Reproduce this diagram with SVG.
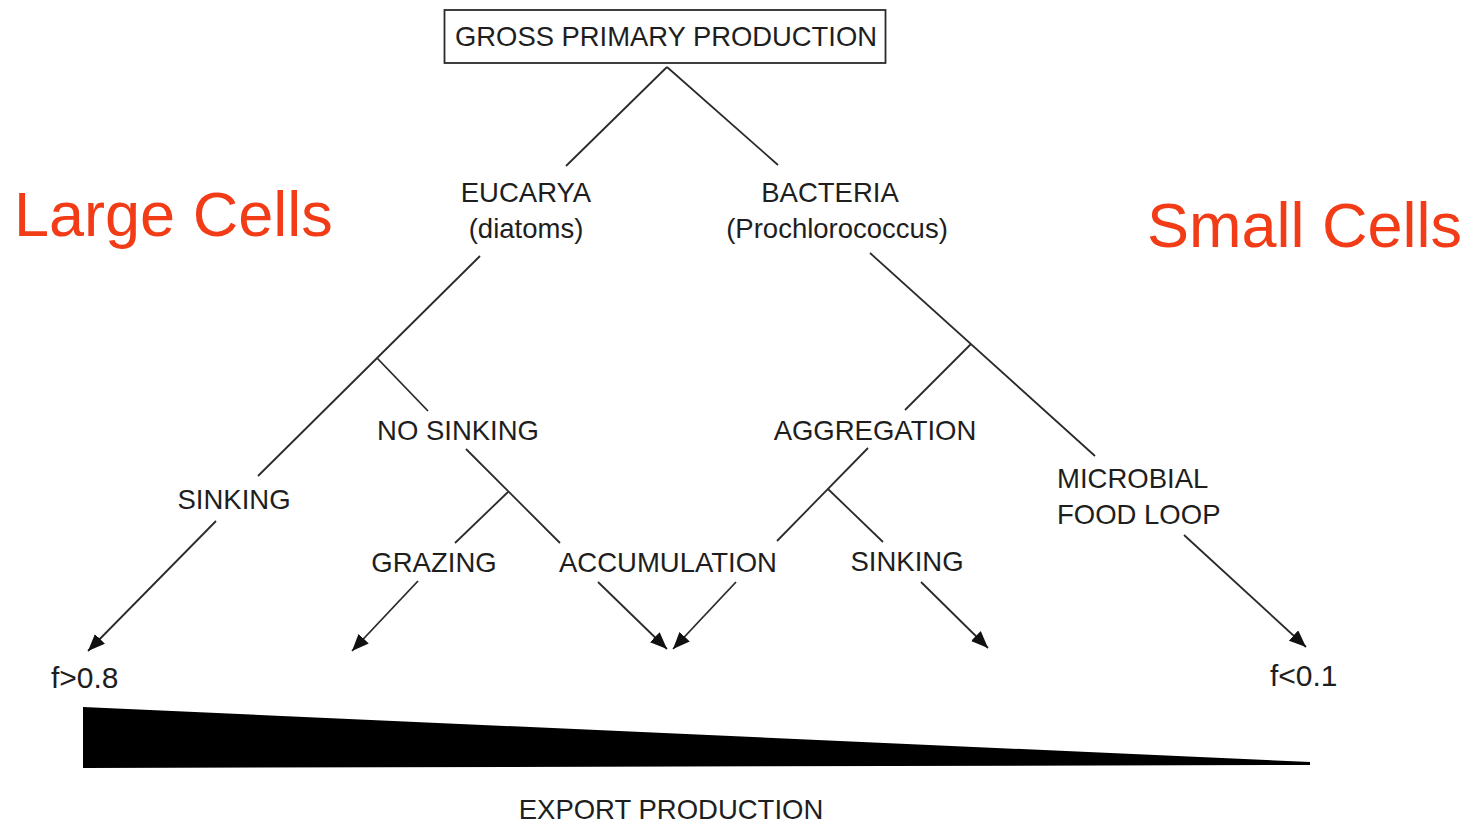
<svg xmlns="http://www.w3.org/2000/svg" width="1478" height="825" viewBox="0 0 1478 825">
<style>
.lbl{font-family:"Liberation Sans",Arial,sans-serif;font-size:27.5px;fill:#1e1e1e;text-anchor:middle}
.f{font-family:"Liberation Sans",Arial,sans-serif;font-size:30px;fill:#1e1e1e}
.red{font-family:"Liberation Sans",Arial,sans-serif;font-size:63px;fill:#f23c17}
.ln{stroke:#2a2a2a;stroke-width:1.8;fill:none}
.ar{stroke:#2a2a2a;stroke-width:1.8;fill:none;marker-end:url(#ah)}
</style>
<defs>
<marker id="ah" markerUnits="userSpaceOnUse" markerWidth="18" markerHeight="14" refX="17" refY="7" orient="auto">
<path d="M0,0 L17,7 L0,14 z" fill="#111"/>
</marker>
</defs>
<rect width="1478" height="825" fill="#fff"/>
<g id="connectors">
<line class="ln" x1="667" y1="67" x2="566" y2="166"/>
<line class="ln" x1="667" y1="67" x2="778" y2="165"/>
<line class="ln" x1="480" y1="256" x2="258" y2="476"/>
<line class="ln" x1="377" y1="358" x2="428" y2="411"/>
<line class="ln" x1="466" y1="449" x2="560" y2="543"/>
<line class="ln" x1="508" y1="492" x2="455" y2="543"/>
<line class="ln" x1="870" y1="253" x2="1095" y2="456"/>
<line class="ln" x1="971" y1="344" x2="905" y2="410"/>
<line class="ln" x1="868" y1="448" x2="777" y2="541"/>
<line class="ln" x1="828" y1="489" x2="883" y2="542"/>
<line class="ar" x1="216" y1="521" x2="88" y2="651"/>
<line class="ar" x1="418" y1="581" x2="352" y2="651"/>
<line class="ar" x1="598" y1="582" x2="667" y2="649"/>
<line class="ar" x1="736" y1="582" x2="673" y2="649"/>
<line class="ar" x1="921" y1="582" x2="988" y2="648"/>
<line class="ar" x1="1184" y1="535" x2="1306" y2="647"/>
</g>
<g id="gpp">
<rect x="444.5" y="10" width="441" height="53" fill="#fff" stroke="#2a2a2a" stroke-width="1.8"/>
<text class="lbl" x="666" y="46" textLength="422" lengthAdjust="spacingAndGlyphs">GROSS PRIMARY PRODUCTION</text>
</g>
<g id="eucarya">
<text class="lbl" x="526" y="202">EUCARYA</text>
<text class="lbl" x="526" y="238">(diatoms)</text>
</g>
<g id="bacteria">
<text class="lbl" x="830" y="202">BACTERIA</text>
<text class="lbl" x="837" y="238">(Prochlorococcus)</text>
</g>
<g id="sinking-left"><text class="lbl" x="234" y="509">SINKING</text></g>
<g id="no-sinking"><text class="lbl" x="458" y="440">NO SINKING</text></g>
<g id="grazing"><text class="lbl" x="434" y="572">GRAZING</text></g>
<g id="accumulation"><text class="lbl" x="668" y="572">ACCUMULATION</text></g>
<g id="aggregation"><text class="lbl" x="875" y="440">AGGREGATION</text></g>
<g id="sinking-right"><text class="lbl" x="907" y="571">SINKING</text></g>
<g id="microbial">
<text class="lbl" x="1057" y="488" style="text-anchor:start">MICROBIAL</text>
<text class="lbl" x="1057" y="524" style="text-anchor:start">FOOD LOOP</text>
</g>
<g id="f-high"><text class="f" x="51" y="688">f&gt;0.8</text></g>
<g id="f-low"><text class="f" x="1270" y="686">f&lt;0.1</text></g>
<g id="wedge">
<polygon points="83,707 1310,762 1310,765 83,768" fill="#000"/>
</g>
<g id="export"><text class="lbl" x="671" y="819">EXPORT PRODUCTION</text></g>
<g id="large-cells"><text class="red" x="14" y="236">Large Cells</text></g>
<g id="small-cells"><text class="red" x="1147" y="247">Small Cells</text></g>
</svg>
